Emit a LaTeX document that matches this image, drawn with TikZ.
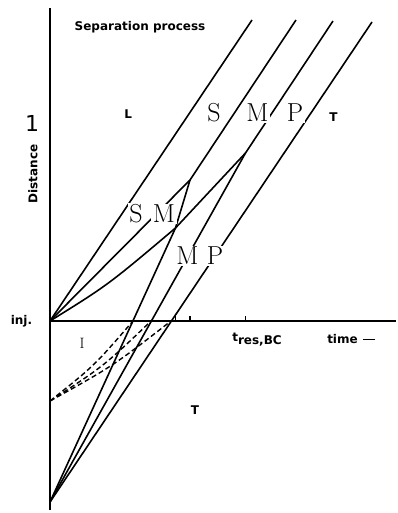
\documentclass[tikz,border=0pt]{standalone}
\usepackage{fontspec}
\newfontfamily\plotfont{DejaVu Sans}
\usepackage{tikz}

\tikzset{
  axis/.style={line width=1.6pt},
  front/.style={line width=1.6pt},
  probe/.style={line width=1.4pt, dash pattern=on 5pt off 3pt},
  zone/.style={font=\fontsize{26}{26}\selectfont, fill=white, inner sep=1.5pt},
  tag/.style={font=\plotfont\bfseries\fontsize{12}{12}\selectfont, inner sep=0pt},
}

\begin{document}
\begin{tikzpicture}[x=1pt,y=-1pt]
  \useasboundingbox (0,0) rectangle (398,513);

  \coordinate (top) at (50,8);
  \coordinate (bot) at (50,510);
  \coordinate (end) at (396,321);
  \coordinate (O) at (50,321);
  \coordinate (D) at (50,401);
  \coordinate (B) at (50,502);
  \coordinate (Ta) at (252,20);
  \coordinate (Tb) at (296,20);
  \coordinate (Tc) at (333,21);
  \coordinate (Td) at (372,22);
  \coordinate (X) at (175.5,228);
  \coordinate (K1) at (190,180);
  \coordinate (K2) at (245.5,153);
  \coordinate (A1) at (133,321);
  \coordinate (A2) at (151,321);
  \coordinate (A3) at (171,321);

  \draw[axis] (top) -- (bot);
  \draw[axis] (O) -- (end);
  \foreach \p in {X,K1,K2}
    \draw[axis] (\p |- O) -- ++(0,-5);

  \draw[front] (O) -- (Ta);
  \draw[front] (O) -- (K1) -- (Tb);
  \draw[front] (O) .. controls (108,285) .. (X) -- (K2) -- (Tc);
  \draw[front] (B) -- (X) -- (K1);
  \draw[front] (B) -- (K2);
  \draw[front] (B) -- (Td);

  \draw[probe] (D) .. controls (94,366) .. (A1);
  \draw[probe] (D) .. controls (104,366) .. (A2);
  \draw[probe] (D) .. controls (113,366) .. (A3);

  \node[zone] (s1) at (214,113) {S};
  \node[zone] (m1) at (257.5,113) {M};
  \node[zone] (p1) at (295,113) {P};
  \node[zone] (s2) at (136,214) {S};
  \node[zone] (m2) at (164,214) {M};
  \node[zone] (m3) at (187.5,256) {M};
  \node[zone] (p3) at (215,256) {P};

  \node[tag] (title) at (140,27.5) {Separation process};
  \node[tag] (lzone) at (128.3,114) {L};
  \node[tag] (tzone) at (333.5,116.7) {T};
  \node[tag] (tlow) at (195,410) {T};
  \node[font=\fontsize{15}{15}\selectfont] (izone) at (82,343) {I};
  \node[tag] (inj) at (21.5,321.5) {inj.};
  \node[tag, rotate=90] (dist) at (33,174) {Distance};
  \node[font=\plotfont\fontsize{22}{22}\selectfont, inner sep=0pt] (one) at (32,123) {1};
  \node[tag] (tres) at (257,340) {t\raisebox{-3pt}{res,BC}};
  \node[tag] (time) at (351,339) {time\hspace{5pt}\rule[3pt]{12pt}{1.8pt}};
\end{tikzpicture}
\end{document}
